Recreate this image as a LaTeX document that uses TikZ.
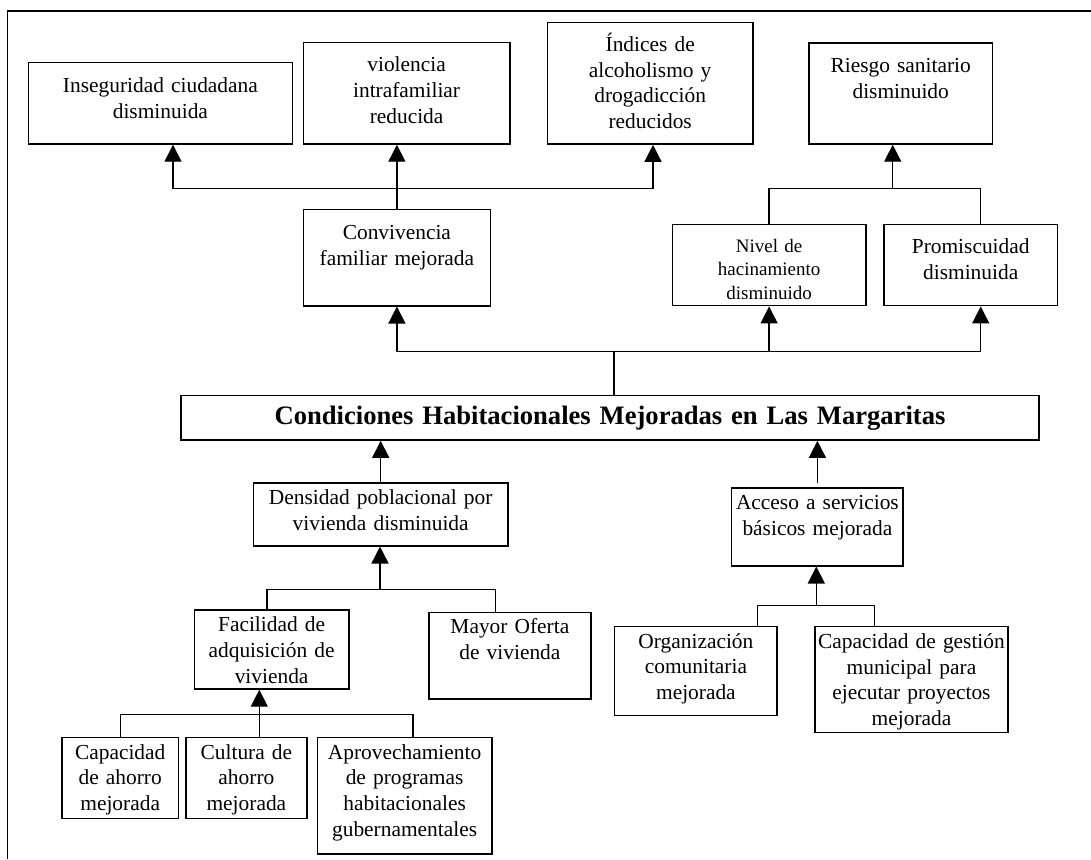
\documentclass[tikz,border=0pt]{standalone}
\usepackage{fontspec}
\setmainfont{Liberation Serif}
\usetikzlibrary{arrows.meta}

\begin{document}
\begin{tikzpicture}[x=0.5pt,y=-0.5pt,line width=0.7pt,
  caja/.style={draw,inner sep=0pt,anchor=north west,align=center,font=\fontsize{10.7pt}{12.85pt}\selectfont},
  medida/.style n args={3}{text width=#1pt,text height=#2pt,text depth=#3pt},
  titulo/.style={caja,font=\fontsize{13.3pt}{16pt}\selectfont\bfseries},
  flecha/.style={-{Triangle[width=8.5pt,length=8.5pt]}}]
  \useasboundingbox (0,0) rectangle (1091,859);
  \draw[line width=0.8pt] (7.3,859) -- (7.3,10.7) -- (1091,10.7);

  % fines
  \node[caja,medida={132}{15}{25.8}] (inseg) at (27.7,61.7) {Inseguridad ciudadana\\disminuida};
  \node[caja,medida={103.2}{14.7}{36.1}] (viol) at (302.7,41.7) {violencia\\intrafamiliar\\reducida};
  \node[caja,medida={102.8}{14.4}{46.3}] (indic) at (546.7,22) {Índices de\\alcoholismo y\\drogadicción\\reducidos};
  \node[caja,medida={91.7}{14.7}{35.8}] (riesgo) at (808.3,42.3) {Riesgo sanitario\\disminuido};
  \node[caja,medida={93.5}{15.2}{33}] (conviv) at (302.7,208.7) {Convivencia\\familiar mejorada};
  \node[caja,medida={96.7}{13.9}{26.6},font=\fontsize{9.5pt}{11.65pt}\selectfont] (nivel) at (671.7,224) {Nivel de\\hacinamiento\\disminuido};
  \node[caja,medida={86.7}{14.5}{26}] (promis) at (883.3,224) {Promiscuidad\\disminuida};

  % objetivo
  \node[titulo,medida={429}{14.5}{7.7}] (cond) at (180.3,395) {Condiciones Habitacionales Mejoradas en Las Margaritas};

  % medios
  \node[caja,medida={127.3}{10.9}{20.5}] (dens) at (252.7,482.3) {Densidad poblacional por\\vivienda disminuida};
  \node[caja,medida={85.7}{10.9}{28}] (acceso) at (731,487.3) {Acceso a servicios\\básicos mejorada};
  \node[caja,medida={77.2}{10.9}{28.6}] (facil) at (193.7,609.3) {Facilidad de\\adquisición de\\vivienda};
  \node[caja,medida={80.9}{10.5}{32.8}] (mayor) at (428.3,611.7) {Mayor Oferta\\de vivienda};
  \node[caja,medida={81.2}{10.7}{33.8}] (organ) at (614,626) {Organización\\comunitaria\\mejorada};
  \node[caja,medida={96.5}{10.8}{42.1}] (gestion) at (814.3,626) {Capacidad de gestión\\municipal para\\ejecutar proyectos\\mejorada};
  \node[caja,medida={58.2}{10.9}{29.6}] (capah) at (61.3,736.7) {Capacidad\\de ahorro\\mejorada};
  \node[caja,medida={60.4}{10.9}{29.6}] (cult) at (185.3,736.7) {Cultura de\\ahorro\\mejorada};
  \node[caja,medida={87.2}{10.9}{47.4}] (aprov) at (316.7,736.7) {Aprovechamiento\\de programas\\habitacionales\\gubernamentales};

  \coordinate (j1) at (396,188.3);
  \coordinate (j2) at (892.7,188.3);
  \coordinate (j3) at (614,351.7);
  \coordinate (j4) at (380,589.3);
  \coordinate (j5) at (259.3,714.3);
  \coordinate (j6) at (816.3,605.3);

  % arriba
  \draw[flecha] (conviv.north) -- (conviv.north |- viol.south);
  \draw[flecha] (j1) -| ([xshift=6.3pt]inseg.south);
  \draw[flecha] (j1) -| ([xshift=1.4pt]indic.south);
  \draw (nivel.north) |- (j2) -| ([xshift=5pt]promis.north);
  \draw[flecha] (j2) -- (j2 |- riesgo.south);
  \draw (cond.north -| j3) -- (j3);
  \draw[flecha] (j3) -| (conviv.south);
  \draw[flecha] (j3) -| ([xshift=5pt]promis.south);
  \draw[flecha] (j3 -| nivel.south) -- (nivel.south);

  % abajo
  \draw[flecha] (dens.north) -- (dens.north |- cond.south);
  \draw[flecha] ([yshift=2.3pt]acceso.north) -- (acceso.north |- cond.south);
  \draw (j4) -| ([xshift=-2.4pt]facil.north);
  \draw (j4) -| ([xshift=-7.1pt]mayor.north);
  \draw[flecha] (j4) -- (j4 |- dens.south);
  \draw (j5) -| (capah.north);
  \draw (j5) -| ([xshift=4.2pt]aprov.north);
  \draw[flecha] (j5 |- cult.north) -- (j5 |- facil.south);
  \draw (j6) -| ([xshift=30.9pt]organ.north);
  \draw (j6) -| ([xshift=-18.4pt]gestion.north);
  \draw[flecha] (j6) -- (j6 |- acceso.south);
\end{tikzpicture}
\end{document}
